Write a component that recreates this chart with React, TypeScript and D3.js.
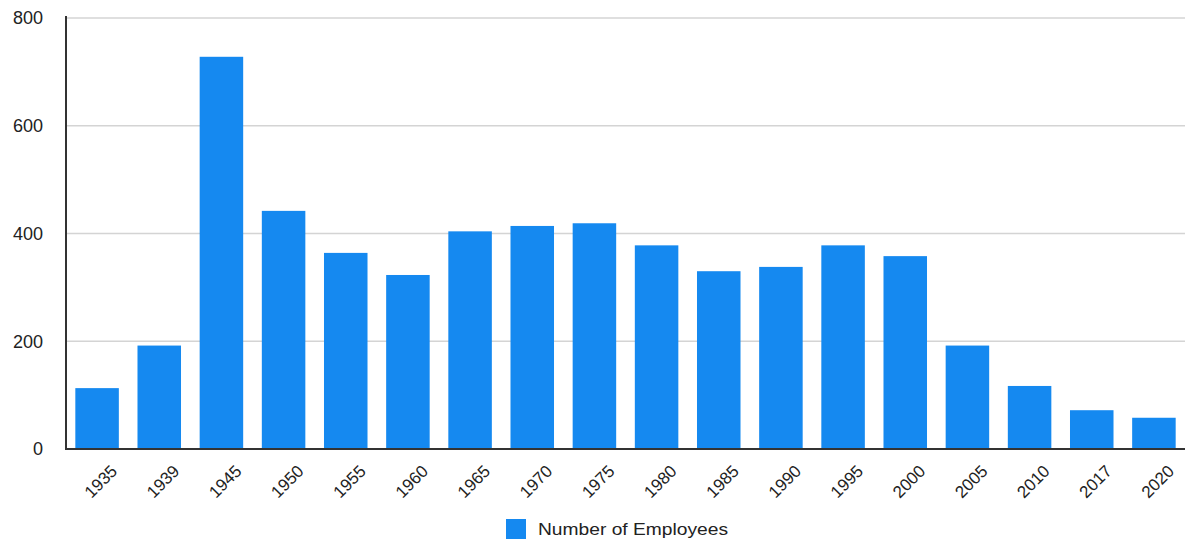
import React from "react";
import * as d3 from "d3";

const years = ["1935","1939","1945","1950","1955","1960","1965","1970","1975","1980","1985","1990","1995","2000","2005","2010","2017","2020"];
const employees = [113,192,728,442,364,323,404,414,419,378,330,338,378,358,192,117,72,58];
const yTicks = [0,200,400,600,800];
const seriesName = "Number of Employees";

const W = 1185, H = 541;
const left = 66, right = 1185, top = 18, bottom = 449;
const color = "#1589F0";

export default function App() {
  const x = d3.scaleBand<string>().domain(years).range([left, right]).paddingInner(0.3).paddingOuter(0.15);
  const y = d3.scaleLinear().domain([0, 800]).range([bottom, top]);
  const font = "'Liberation Sans', Arial, sans-serif";
  return (
    <svg width={W} height={H} style={{ position: "absolute", left: 0, top: 0, background: "#fff" }} fontFamily={font}>
      {yTicks.map(t => (
        <g key={t}>
          {t > 0 && <line x1={left} x2={right} y1={y(t)} y2={y(t)} stroke="#d4d4d4" strokeWidth={1.5} />}
          <text x={43} y={y(t)} dy="0.35em" textAnchor="end" fontSize={18} fill="#222">{t}</text>
        </g>
      ))}
      {years.map((yr, i) => (
        <rect key={yr} x={x(yr)} y={y(employees[i])} width={x.bandwidth()} height={bottom - y(employees[i])} fill={color} />
      ))}
      <line x1={left} x2={left} y1={top - 2} y2={bottom + 1} stroke="#333" strokeWidth={2} />
      <line x1={left} x2={right} y1={bottom} y2={bottom} stroke="#333" strokeWidth={2} />
      {years.map(yr => {
        const cx = (x(yr) as number) + x.bandwidth() / 2;
        return (
          <text key={yr} transform={`translate(${cx + 17},${bottom + 19}) rotate(-45)`} textAnchor="end" dy="0.35em" fontSize={17} fill="#222">{yr}</text>
        );
      })}
      <rect x={506} y={519} width={20} height={20} fill={color} />
      <text x={538} y={529} dy="0.35em" fontSize={17} fill="#222" textLength={190} lengthAdjust="spacingAndGlyphs">{seriesName}</text>
    </svg>
  );
}
